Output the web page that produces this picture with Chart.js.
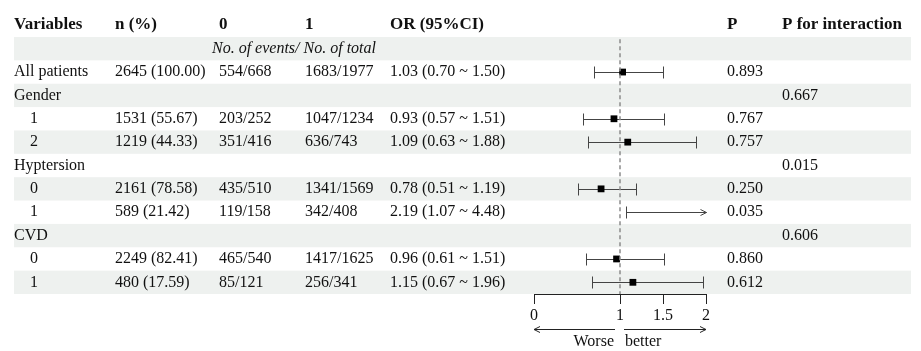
<!DOCTYPE html>
<html>
<head>
<meta charset="utf-8">
<script src="https://cdn.jsdelivr.net/npm/chart.js@4.4.1/dist/chart.umd.min.js"></script>
<style>
  body { margin: 0; background: #fff; }
  #wrap { width: 921px; height: 351px; position: relative; }
</style>
</head>
<body>
<div id="wrap"><canvas id="chart"></canvas></div>
<script>
// table rows 2..11 (row 1 is the "No. of events" sub header)
const variables = ['All patients', 'Gender', '1', '2', 'Hyptersion', '0', '1', 'CVD', '0', '1']
const isGroup = [true, true, false, false, true, false, false, true, false, false]
const nPct = ['2645 (100.00)', null, '1531 (55.67)', '1219 (44.33)', null, '2161 (78.58)', '589 (21.42)', null, '2249 (82.41)', '480 (17.59)']
const events0 = ['554/668', null, '203/252', '351/416', null, '435/510', '119/158', null, '465/540', '85/121']
const events1 = ['1683/1977', null, '1047/1234', '636/743', null, '1341/1569', '342/408', null, '1417/1625', '256/341']
const orVals = [1.03, null, 0.93, 1.09, null, 0.78, 2.19, null, 0.96, 1.15]
const ciLow = [0.70, null, 0.57, 0.63, null, 0.51, 1.07, null, 0.61, 0.67]
const ciHigh = [1.50, null, 1.51, 1.88, null, 1.19, 4.48, null, 1.51, 1.96]
const pVals = ['0.893', null, '0.767', '0.757', null, '0.250', '0.035', null, '0.860', '0.612']
const pInteraction = [null, '0.667', null, null, '0.015', null, null, '0.606', null, null]
const xTicks = [0, 1, 1.5, 2]
const xMin = 0, xMax = 2

const headers = ['Variables', 'n (%)', '0', '1', 'OR (95%CI)', 'P', 'P for interaction']
const colX = [14, 115, 219, 305, 390, 727, 782]

const serif = "'Liberation Serif', 'DejaVu Serif', serif"
const txt = '#111'
const rowOf = (i) => i + 2

function orText(i) {
    if (orVals[i] == null) return null
    return orVals[i].toFixed(2) + ' (' + ciLow[i].toFixed(2) + ' ~ ' + ciHigh[i].toFixed(2) + ')'
}

// points inside the axis range only
const points = []
orVals.forEach((v, i) => {
    if (v != null && v <= xMax) points.push({ x: v, y: rowOf(i) })
})

const tablePlugin = {
    id: 'table',
    beforeDraw(chart) {
        const ctx = chart.ctx
        const y = chart.scales.y
        ctx.save()
        ctx.fillStyle = '#eef1ef'
        for (let r = 1; r <= 11; r += 2) {
            const top = y.getPixelForValue(r - 0.5)
            const bot = y.getPixelForValue(r + 0.5)
            ctx.fillRect(14, top, 897, bot - top)
        }
        ctx.restore()
    },
    beforeDatasetsDraw(chart) {
        // confidence intervals
        const ctx = chart.ctx
        const x = chart.scales.x, y = chart.scales.y
        ctx.save()
        ctx.strokeStyle = '#444'
        ctx.lineWidth = 1
        orVals.forEach((v, i) => {
            if (v == null) return
            const py = Math.round(y.getPixelForValue(rowOf(i))) + 0.5
            const x1 = Math.round(x.getPixelForValue(Math.max(ciLow[i], xMin))) + 0.5
            const over = ciHigh[i] > xMax
            const x2 = Math.round(x.getPixelForValue(Math.min(ciHigh[i], xMax))) + 0.5
            ctx.beginPath()
            ctx.moveTo(x1, py); ctx.lineTo(x2, py)
            ctx.moveTo(x1, py - 6); ctx.lineTo(x1, py + 6)
            if (over) {
                ctx.moveTo(x2 - 6, py - 3); ctx.lineTo(x2, py); ctx.lineTo(x2 - 6, py + 3)
            } else {
                ctx.moveTo(x2, py - 6); ctx.lineTo(x2, py + 6)
            }
            ctx.stroke()
        })
        ctx.restore()
    },
    afterDraw(chart) {
        const ctx = chart.ctx
        const y = chart.scales.y
        const x = chart.scales.x
        ctx.save()
        ctx.fillStyle = txt
        ctx.textBaseline = 'middle'
        ctx.textAlign = 'left'
        ctx.font = 'bold 17px ' + serif
        const hy = y.getPixelForValue(0) - 1
        headers.forEach((h, k) => ctx.fillText(h, colX[k], hy))

        ctx.font = 'italic 16px ' + serif
        ctx.fillText('No. of events/ No. of total', 212, y.getPixelForValue(1))

        ctx.font = '16px ' + serif
        variables.forEach((v, i) => {
            const py = y.getPixelForValue(rowOf(i))
            ctx.fillText(v, isGroup[i] ? 14 : 30, py)
            if (nPct[i]) ctx.fillText(nPct[i], colX[1], py)
            if (events0[i]) ctx.fillText(events0[i], colX[2], py)
            if (events1[i]) ctx.fillText(events1[i], colX[3], py)
            const o = orText(i)
            if (o) ctx.fillText(o, colX[4], py)
            if (pVals[i]) ctx.fillText(pVals[i], colX[5], py)
            if (pInteraction[i]) ctx.fillText(pInteraction[i], colX[6], py)
        })

        // direction arrows under the axis
        const ax0 = x.getPixelForValue(xMin), ax1 = x.getPixelForValue(xMax)
        const mid = x.getPixelForValue(1)
        const ay = 329.5
        ctx.strokeStyle = '#222'
        ctx.lineWidth = 1
        ctx.beginPath()
        ctx.moveTo(ax0, ay); ctx.lineTo(mid - 5, ay)
        ctx.moveTo(ax0 + 6, ay - 3); ctx.lineTo(ax0, ay); ctx.lineTo(ax0 + 6, ay + 3)
        ctx.moveTo(mid + 4, ay); ctx.lineTo(ax1, ay)
        ctx.moveTo(ax1 - 6, ay - 3); ctx.lineTo(ax1, ay); ctx.lineTo(ax1 - 6, ay + 3)
        ctx.stroke()
        ctx.textAlign = 'right'
        ctx.fillText('Worse', mid - 6, 342)
        ctx.textAlign = 'left'
        ctx.fillText('better', mid + 5, 342)
        ctx.restore()
    }
}

const ctx = document.getElementById('chart').getContext('2d')
const chart = new Chart(ctx, {
    type: 'scatter',
    data: {
        datasets: [{
            type: 'line',
            data: [{ x: 1, y: 0.6 }, { x: 1, y: 11.5 }],
            borderColor: '#8c8c8c',
            borderWidth: 1.5,
            borderDash: [4, 3],
            pointRadius: 0,
            fill: false
        }, {
            data: points,
            pointStyle: 'rect',
            pointRadius: 4.8,
            pointHoverRadius: 4.8,
            backgroundColor: '#000',
            borderColor: '#000',
            borderWidth: 0
        }]
    },
    options: {
        responsive: true,
        maintainAspectRatio: false,
        animation: false,
        events: [],
        layout: { padding: { top: 37, left: 534, right: 215, bottom: 27 } },
        plugins: { legend: { display: false }, tooltip: { enabled: false } },
        scales: {
            x: {
                type: 'linear',
                min: xMin,
                max: xMax,
                afterBuildTicks: (scale) => { scale.ticks = xTicks.map(v => ({ value: v })) },
                afterFit: (scale) => { scale.height = 30 },
                ticks: {
                    color: txt,
                    padding: 2,
                    font: { family: serif, size: 16 },
                    callback: (v) => String(v)
                },
                grid: { drawOnChartArea: false, drawTicks: true, tickLength: 10, tickColor: '#222' },
                border: { display: true, color: '#222', width: 1 }
            },
            y: {
                type: 'linear',
                min: 0.5,
                max: 11.5,
                reverse: true,
                display: false
            }
        }
    },
    plugins: [tablePlugin]
})
</script>
</body>
</html>
